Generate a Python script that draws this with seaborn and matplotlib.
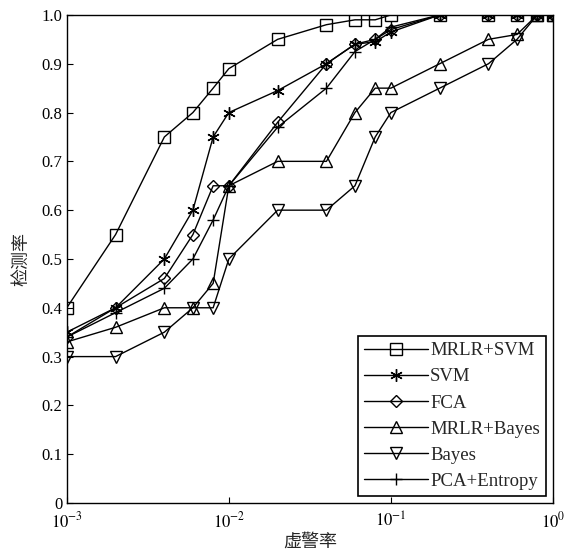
import numpy as np
import pandas as pd
import matplotlib
matplotlib.use("Agg")
import matplotlib.pyplot as plt
import seaborn as sns
from matplotlib.ticker import FixedLocator, NullLocator, FixedFormatter

sns.set_style("white")
plt.rcParams['font.family'] = ['Liberation Serif', 'DejaVu Serif']
plt.rcParams['mathtext.fontset'] = 'stix'

fpr = [0.001, 0.002, 0.004, 0.006, 0.008, 0.01, 0.02, 0.04, 0.06, 0.08, 0.1, 0.2, 0.4, 0.6, 0.8, 1.0]

mrlr_svm   = [0.40, 0.55, 0.75, 0.80, 0.85, 0.89, 0.95, 0.98, 0.99, 0.99, 1.00, 1.00, 1.00, 1.00, 1.00, 1.00]
svm        = [0.35, 0.40, 0.50, 0.60, 0.75, 0.80, 0.845, 0.90, 0.94, 0.945, 0.965, 1.00, 1.00, 1.00, 1.00, 1.00]
fca        = [0.34, 0.40, 0.46, 0.55, 0.65, 0.65, 0.78, 0.90, 0.94, 0.95, 0.97, 1.00, 1.00, 1.00, 1.00, 1.00]
mrlr_bayes = [0.33, 0.36, 0.40, 0.40, 0.45, 0.65, 0.70, 0.70, 0.80, 0.85, 0.85, 0.90, 0.95, 0.96, 1.00, 1.00]
bayes      = [0.30, 0.30, 0.35, 0.40, 0.40, 0.50, 0.60, 0.60, 0.65, 0.75, 0.80, 0.85, 0.90, 0.95, 1.00, 1.00]
pca_ent    = [0.34, 0.39, 0.44, 0.50, 0.58, 0.65, 0.77, 0.85, 0.925, 0.95, 0.975, 1.00, 1.00, 1.00, 1.00, 1.00]

names = ["MRLR+SVM", "SVM", "FCA", "MRLR+Bayes", "Bayes", "PCA+Entropy"]
series = [mrlr_svm, svm, fca, mrlr_bayes, bayes, pca_ent]
markers = ['s', (6, 2, 0), 'D', '^', 'v', '+']
msizes = [8, 9, 6.5, 8, 8, 9]

fig = plt.figure(figsize=(5.66, 5.53), dpi=100)
ax = fig.add_axes([0.118, 0.0904, 0.859, 0.8826])

for name, vals, mk, ms in zip(names, series, markers, msizes):
    df = pd.DataFrame({"x": fpr, "y": vals})
    sns.lineplot(data=df, x="x", y="y", ax=ax, color='k', marker=mk, label=name,
                 markersize=ms, markerfacecolor='none', markeredgecolor='k',
                 markeredgewidth=1.0, linewidth=1.0, estimator=None, sort=False)

ax.set_xscale('log')
ax.set_xlim(1e-3, 1.0)
ax.set_ylim(0, 1.0)
ax.xaxis.set_major_locator(FixedLocator([1e-3, 1e-2, 1e-1, 1e0]))
ax.xaxis.set_major_formatter(FixedFormatter([r'$10^{-3}$', r'$10^{-2}$', r'$10^{-1}$', r'$10^{0}$']))
ax.xaxis.set_minor_locator(NullLocator())
yt = [0, 0.1, 0.2, 0.3, 0.4, 0.5, 0.6, 0.7, 0.8, 0.9, 1.0]
ax.set_yticks(yt)
ax.set_yticklabels(['0', '0.1', '0.2', '0.3', '0.4', '0.5', '0.6', '0.7', '0.8', '0.9', '1.0'])
ax.tick_params(direction='in', length=4, width=0.8, labelsize=12, colors='k',
               top=False, right=False, left=True, bottom=True)
ax.tick_params(axis='x', pad=6)
ax.tick_params(axis='y', pad=3)
for s in ax.spines.values():
    s.set_color('k')
    s.set_linewidth(1.0)

ax.set_xlabel('虚警率', family=['Noto Sans CJK SC'], fontsize=13, labelpad=1)
ax.set_ylabel('检测率', family=['Noto Sans CJK SC'], fontsize=13, labelpad=8)

leg = ax.legend(loc='lower right', frameon=True, fancybox=False, framealpha=1,
                edgecolor='k', fontsize=13.5, handlelength=3.4, borderpad=0.35,
                labelspacing=0.48, handletextpad=0.1, borderaxespad=0.35)
leg.get_frame().set_linewidth(1.2)

fig.savefig('out.png', dpi=100)
